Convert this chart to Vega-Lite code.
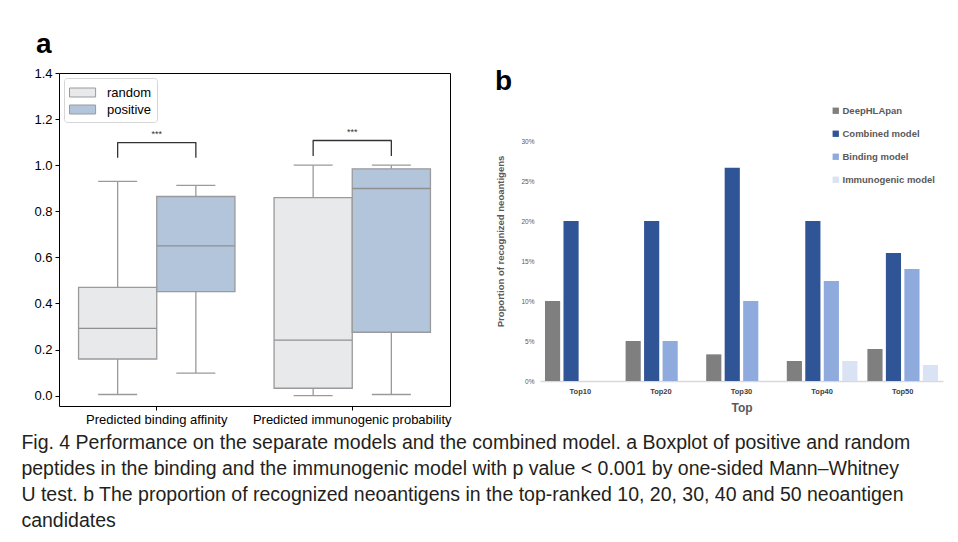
{
  "$schema": "https://vega.github.io/schema/vega-lite/v6.json",
  "padding": {"left": 21, "top": 30, "right": 5, "bottom": 2},
  "background": "white",
  "title": {
    "text": [
      "Fig. 4  Performance on the separate models and the combined model. a Boxplot of positive and random",
      "peptides in the binding and the immunogenic model with p value < 0.001 by one-sided Mann–Whitney",
      "U test. b The proportion of recognized neoantigens in the top-ranked 10, 20, 30, 40 and 50 neoantigen",
      "candidates"
    ],
    "orient": "bottom",
    "anchor": "start",
    "frame": "bounds",
    "font": "Liberation Sans",
    "fontSize": 19.5,
    "fontWeight": "normal",
    "color": "#231f20",
    "lineHeight": 26,
    "offset": 7,
    "dx": -12
  },
  "datasets": {
    "boxes": [
      {"feature": "Predicted binding affinity", "group": "random", "min": 0.005, "q1": 0.159, "median": 0.292, "q3": 0.470, "max": 0.930},
      {"feature": "Predicted binding affinity", "group": "positive", "min": 0.098, "q1": 0.451, "median": 0.650, "q3": 0.864, "max": 0.912},
      {"feature": "Predicted immunogenic probability", "group": "random", "min": 0.0, "q1": 0.032, "median": 0.241, "q3": 0.859, "max": 1.0},
      {"feature": "Predicted immunogenic probability", "group": "positive", "min": 0.005, "q1": 0.275, "median": 0.899, "q3": 0.984, "max": 1.0}
    ],
    "brackets": [
      {"feature": "Predicted binding affinity", "group": "random", "low": 1.032, "high": 1.098, "label": "***"},
      {"feature": "Predicted binding affinity", "group": "positive", "low": 1.032, "high": 1.098, "label": "***"},
      {"feature": "Predicted immunogenic probability", "group": "random", "low": 1.04, "high": 1.107, "label": "***"},
      {"feature": "Predicted immunogenic probability", "group": "positive", "low": 1.04, "high": 1.107, "label": "***"}
    ],
    "bars": [
      {"top": "Top10", "model": "DeepHLApan", "value": 0.10},
      {"top": "Top10", "model": "Combined model", "value": 0.20},
      {"top": "Top10", "model": "Binding model", "value": 0.0},
      {"top": "Top10", "model": "Immunogenic model", "value": 0.0},
      {"top": "Top20", "model": "DeepHLApan", "value": 0.05},
      {"top": "Top20", "model": "Combined model", "value": 0.20},
      {"top": "Top20", "model": "Binding model", "value": 0.05},
      {"top": "Top20", "model": "Immunogenic model", "value": 0.0},
      {"top": "Top30", "model": "DeepHLApan", "value": 0.0333},
      {"top": "Top30", "model": "Combined model", "value": 0.2667},
      {"top": "Top30", "model": "Binding model", "value": 0.10},
      {"top": "Top30", "model": "Immunogenic model", "value": 0.0},
      {"top": "Top40", "model": "DeepHLApan", "value": 0.025},
      {"top": "Top40", "model": "Combined model", "value": 0.20},
      {"top": "Top40", "model": "Binding model", "value": 0.125},
      {"top": "Top40", "model": "Immunogenic model", "value": 0.025},
      {"top": "Top50", "model": "DeepHLApan", "value": 0.04},
      {"top": "Top50", "model": "Combined model", "value": 0.16},
      {"top": "Top50", "model": "Binding model", "value": 0.14},
      {"top": "Top50", "model": "Immunogenic model", "value": 0.02}
    ]
  },
  "spacing": 90,
  "bounds": "flush",
  "resolve": {
    "scale": {"x": "independent", "y": "independent", "xOffset": "independent", "color": "independent", "fill": "independent"},
    "legend": {"color": "independent", "fill": "independent"}
  },
  "hconcat": [
    {
      "width": 391,
      "height": 333,
      "view": {"stroke": "#000000", "strokeWidth": 1},
      "title": {"text": "a", "anchor": "start", "font": "Liberation Sans", "fontSize": 28, "fontWeight": "bold", "color": "#000000", "dx": 2, "offset": 8},
      "encoding": {
        "x": {"field": "feature", "type": "nominal", "sort": ["Predicted binding affinity", "Predicted immunogenic probability"],
              "scale": {"paddingInner": 0.2, "paddingOuter": 0.1},
              "axis": {"title": null, "labelAngle": 0, "labelLimit": 400, "labelFont": "Liberation Sans", "labelFontSize": 13, "labelColor": "#000000", "tickColor": "#000000", "tickSize": 4, "labelPadding": 3, "domain": false}}
      },
      "layer": [
        {
          "data": {"name": "boxes"},
          "mark": {"type": "rule", "color": "#9a9a9a", "strokeWidth": 1.3},
          "encoding": {
            "xOffset": {"field": "group", "type": "nominal", "sort": ["random", "positive"], "scale": {"domain": ["random", "positive"], "paddingInner": 0, "paddingOuter": 0}},
            "y": {"field": "min", "type": "quantitative", "scale": {"domain": [-0.045, 1.4], "nice": false, "zero": false},
                  "axis": {"title": null, "values": [0, 0.2, 0.4, 0.6, 0.8, 1.0, 1.2, 1.4], "format": ".1f", "grid": false, "domain": false, "labelFont": "Liberation Sans", "labelFontSize": 13, "labelColor": "#000000", "tickColor": "#000000", "tickSize": 4, "labelPadding": 3}},
            "y2": {"field": "max"}
          }
        },
        {
          "data": {"name": "boxes"},
          "mark": {"type": "bar", "stroke": "#9a9a9a", "strokeWidth": 1.3},
          "encoding": {
            "xOffset": {"field": "group", "type": "nominal", "sort": ["random", "positive"]},
            "y": {"field": "q1", "type": "quantitative",
                  "axis": {"title": null, "values": [0, 0.2, 0.4, 0.6, 0.8, 1.0, 1.2, 1.4], "format": ".1f", "grid": false, "domain": false, "labelFont": "Liberation Sans", "labelFontSize": 13, "labelColor": "#000000", "tickColor": "#000000", "tickSize": 4, "labelPadding": 3}},
            "y2": {"field": "q3"},
            "fill": {"field": "group", "type": "nominal",
                     "scale": {"domain": ["random", "positive"], "range": ["#e8e9eb", "#b3c5da"]},
                     "legend": {"title": null, "orient": "top-left", "offset": 5, "padding": 5, "strokeColor": "#d6d6d6", "fillColor": "#ffffff", "cornerRadius": 3,
                                "symbolType": "M-1,-0.5H1.9V0.5H-1Z", "symbolSize": 324, "symbolStrokeColor": "#9a9a9a", "symbolStrokeWidth": 1, "symbolOpacity": 1,
                                "labelFont": "Liberation Sans", "labelFontSize": 13, "labelColor": "#000000", "labelOffset": 19, "rowPadding": 0}}
          }
        },
        {
          "data": {"name": "boxes"},
          "mark": {"type": "tick", "color": "#8f8f8f", "size": 78, "thickness": 1.4, "opacity": 1},
          "encoding": {
            "xOffset": {"field": "group", "type": "nominal", "sort": ["random", "positive"]},
            "y": {"field": "median", "type": "quantitative",
                  "axis": {"title": null, "values": [0, 0.2, 0.4, 0.6, 0.8, 1.0, 1.2, 1.4], "format": ".1f", "grid": false, "domain": false, "labelFont": "Liberation Sans", "labelFontSize": 13, "labelColor": "#000000", "tickColor": "#000000", "tickSize": 4, "labelPadding": 3}}
          }
        },
        {
          "data": {"name": "boxes"},
          "mark": {"type": "tick", "color": "#9a9a9a", "size": 39, "thickness": 1.3, "opacity": 1},
          "encoding": {
            "xOffset": {"field": "group", "type": "nominal", "sort": ["random", "positive"]},
            "y": {"field": "min", "type": "quantitative",
                  "axis": {"title": null, "values": [0, 0.2, 0.4, 0.6, 0.8, 1.0, 1.2, 1.4], "format": ".1f", "grid": false, "domain": false, "labelFont": "Liberation Sans", "labelFontSize": 13, "labelColor": "#000000", "tickColor": "#000000", "tickSize": 4, "labelPadding": 3}}
          }
        },
        {
          "data": {"name": "boxes"},
          "mark": {"type": "tick", "color": "#9a9a9a", "size": 39, "thickness": 1.3, "opacity": 1},
          "encoding": {
            "xOffset": {"field": "group", "type": "nominal", "sort": ["random", "positive"]},
            "y": {"field": "max", "type": "quantitative",
                  "axis": {"title": null, "values": [0, 0.2, 0.4, 0.6, 0.8, 1.0, 1.2, 1.4], "format": ".1f", "grid": false, "domain": false, "labelFont": "Liberation Sans", "labelFontSize": 13, "labelColor": "#000000", "tickColor": "#000000", "tickSize": 4, "labelPadding": 3}}
          }
        },
        {
          "data": {"name": "brackets"},
          "mark": {"type": "rule", "color": "#333333", "strokeWidth": 1.3},
          "encoding": {
            "xOffset": {"field": "group", "type": "nominal", "sort": ["random", "positive"]},
            "y": {"field": "low", "type": "quantitative",
                  "axis": {"title": null, "values": [0, 0.2, 0.4, 0.6, 0.8, 1.0, 1.2, 1.4], "format": ".1f", "grid": false, "domain": false, "labelFont": "Liberation Sans", "labelFontSize": 13, "labelColor": "#000000", "tickColor": "#000000", "tickSize": 4, "labelPadding": 3}},
            "y2": {"field": "high"}
          }
        },
        {
          "data": {"name": "brackets"},
          "transform": [{"filter": "datum.group === 'random'"}],
          "mark": {"type": "tick", "color": "#333333", "size": 79, "thickness": 1.3, "opacity": 1},
          "encoding": {
            "y": {"field": "high", "type": "quantitative",
                  "axis": {"title": null, "values": [0, 0.2, 0.4, 0.6, 0.8, 1.0, 1.2, 1.4], "format": ".1f", "grid": false, "domain": false, "labelFont": "Liberation Sans", "labelFontSize": 13, "labelColor": "#000000", "tickColor": "#000000", "tickSize": 4, "labelPadding": 3}}
          }
        },
        {
          "data": {"name": "brackets"},
          "transform": [{"filter": "datum.group === 'random'"}],
          "mark": {"type": "text", "color": "#333333", "font": "Liberation Sans", "fontSize": 9, "baseline": "bottom", "dy": -4},
          "encoding": {
            "y": {"field": "high", "type": "quantitative",
                  "axis": {"title": null, "values": [0, 0.2, 0.4, 0.6, 0.8, 1.0, 1.2, 1.4], "format": ".1f", "grid": false, "domain": false, "labelFont": "Liberation Sans", "labelFontSize": 13, "labelColor": "#000000", "tickColor": "#000000", "tickSize": 4, "labelPadding": 3}},
            "text": {"field": "label"}
          }
        }
      ]
    },
    {
      "width": 403,
      "height": 308,
      "view": {"stroke": null},
      "title": {"text": "b", "anchor": "start", "font": "Liberation Sans", "fontSize": 28, "fontWeight": "bold", "color": "#000000", "dx": 0, "dy": 31, "offset": 8},
      "data": {"name": "bars"},
      "mark": {"type": "bar"},
      "encoding": {
        "x": {"field": "top", "type": "nominal", "sort": ["Top10", "Top20", "Top30", "Top40", "Top50"],
              "scale": {"paddingInner": 0, "paddingOuter": 0},
              "axis": {"title": "Top", "labelAngle": 0, "ticks": false, "domainColor": "#d9d9d9", "domainWidth": 1.3,
                       "labelFont": "Liberation Sans", "labelFontSize": 7.5, "labelFontWeight": "bold", "labelColor": "#404040", "labelPadding": 6,
                       "titleFont": "Liberation Sans", "titleFontSize": 12, "titleFontWeight": "bold", "titleColor": "#595959", "titlePadding": 8}},
        "xOffset": {"field": "model", "type": "nominal", "sort": ["DeepHLApan", "Combined model", "Binding model", "Immunogenic model"],
                    "scale": {"domain": ["DeepHLApan", "Combined model", "Binding model", "Immunogenic model"], "paddingInner": 0.18, "paddingOuter": 0.27}},
        "y": {"field": "value", "type": "quantitative", "scale": {"domain": [0, 0.385], "nice": false},
              "axis": {"title": "Proportion of recognized neoantigens", "values": [0, 0.05, 0.1, 0.15, 0.2, 0.25, 0.3], "format": ".0%",
                       "grid": false, "domain": false, "ticks": false, "labelFont": "Liberation Sans", "labelFontSize": 6.5, "labelColor": "#595959", "labelPadding": 6,
                       "titleFont": "Liberation Sans", "titleFontSize": 9.5, "titleFontWeight": "bold", "titleColor": "#595959", "titleX": -35, "titleY": 168}},
        "color": {"field": "model", "type": "nominal", "sort": ["DeepHLApan", "Combined model", "Binding model", "Immunogenic model"],
                  "scale": {"domain": ["DeepHLApan", "Combined model", "Binding model", "Immunogenic model"], "range": ["#7f7f7f", "#2f5597", "#8faadc", "#dae3f3"]},
                  "legend": {"title": null, "orient": "none", "legendX": 291, "legendY": 33, "padding": 0, "symbolType": "square", "symbolSize": 40, "symbolOpacity": 1,
                             "labelFont": "Liberation Sans", "labelFontSize": 9.5, "labelFontWeight": "bold", "labelColor": "#595959", "labelOffset": 2, "rowPadding": 12}}
      }
    }
  ],
  "config": {
    "view": {"stroke": null},
    "font": "Liberation Sans"
  }
}
